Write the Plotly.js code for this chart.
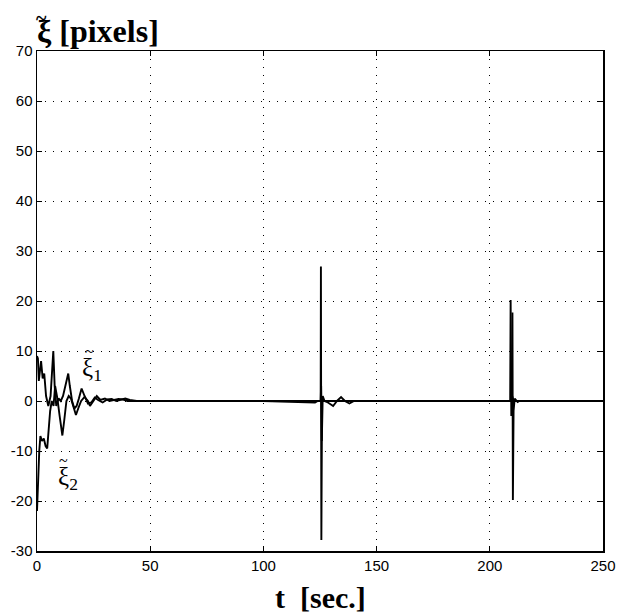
<!DOCTYPE html>
<html>
<head>
<meta charset="utf-8">
<script src="https://cdn.plot.ly/plotly-3.0.1.min.js"></script>
<style>html,body{margin:0;padding:0;background:#fff;}#chart{width:619px;height:614px;}</style>
</head>
<body>
<div id="chart"></div>
<script>
// Series 1 (xi~1)
const t1 = [0, 0.4, 0.8, 1.2, 1.8, 2.5, 3.2, 4, 5, 6, 6.7, 7.2, 7.8, 8.5, 9.5, 10.5, 11.5, 12.5, 13.3, 13.8, 14.5, 15.5, 16.5, 17.5, 18.5, 19.7, 21, 22.5, 24, 25.5, 27, 29, 31, 33, 35, 37, 39, 41, 44, 50, 100, 122.8, 124, 125.3, 125.4, 125.6, 125.9, 126.5, 150, 200, 209.0, 209.2, 209.5, 209.9, 210.5, 250];
const xi1 = [9, 8.5, 4, 6, 8, 4.5, 5.5, 1, -1, 1, 6, 10, 3, -1, 0.5, 0, 1, 3, 5, 5.5, 3, 0, -1.5, -1, 0.5, 2.5, 1, -0.5, -0.3, 0.7, 0.2, -0.3, 0.3, 0.4, 0, 0.3, 0.5, 0.2, 0, 0, 0, -0.3, 0, 0, 26.9, -27.8, 0, 0, 0, 0, 0, 20.2, -3, 1, 0, 0];
// Series 2 (xi~2)
const t2 = [0, 0.3, 0.6, 1, 1.5, 2.2, 3, 3.8, 4.5, 5, 5.8, 6.5, 7.3, 8, 9, 10, 11.2, 12, 13, 14, 15, 16, 17.2, 18.2, 19.5, 21, 22.5, 23.4, 25, 26.4, 28, 30, 32, 34, 36, 38, 40, 50, 100, 124, 125.3, 125.5, 125.8, 126.2, 127, 128.5, 130.8, 132.5, 134.3, 136, 138, 140, 150, 200, 209.8, 210.0, 210.2, 210.5, 211, 212.3, 213, 250];
const xi2 = [-22, -18, -12, -10, -7, -8, -7.5, -9, -9.5, -6, -2, 0, -1, 3, 0.5, -3, -6.9, -4, 0, 1, 0.5, -1, -2.8, -1.5, 0, 0.8, 0, -1, 0, 1, 0.2, 0.5, 0, 0.2, 0.4, 0.3, 0, 0, 0, 0, 0, 3, -8, 1, 0, -0.3, -1, 0, 0.8, 0, -0.5, 0, 0, 0, 0, 17.7, -19.8, -2, 0.5, -0.2, 0, 0];

const xTicks = [0, 50, 100, 150, 200, 250];
const yTicks = [-30, -20, -10, 0, 10, 20, 30, 40, 50, 60, 70];

const lineStyle = {color: '#000', width: 1.9};
const traces = [
  {x: t1, y: xi1, mode: 'lines', line: lineStyle, name: 'xi1', showlegend: false},
  {x: t2, y: xi2, mode: 'lines', line: lineStyle, name: 'xi2', showlegend: false}
];

const axisCommon = {
  showline: true, linecolor: '#000', linewidth: 1.5, mirror: 'ticks',
  ticks: 'inside', ticklen: 5, tickcolor: '#000', tickwidth: 1,
  showgrid: true, gridcolor: '#000', gridwidth: 1, griddash: '1px,7px',
  zeroline: false,
  tickfont: {family: 'Liberation Sans, Arial, sans-serif', size: 15, color: '#000'}
};

const serif = 'Liberation Serif, Times New Roman, serif';
const layout = {
  width: 619, height: 614,
  margin: {l: 37, r: 16, t: 51, b: 63},
  paper_bgcolor: '#fff', plot_bgcolor: '#fff',
  xaxis: Object.assign({}, axisCommon, {range: [0, 250], tickvals: xTicks, ticktext: xTicks.map(String)}),
  yaxis: Object.assign({}, axisCommon, {range: [-30, 70], tickvals: yTicks, ticktext: yTicks.map(String)}),
  annotations: [
    // y-axis title
    {xref: 'paper', yref: 'paper', x: -0.004, y: 1.04, xanchor: 'left', yanchor: 'middle', showarrow: false,
     text: '<b>ξ [pixels]</b>', font: {family: serif, size: 32, color: '#000'}},
    {xref: 'paper', yref: 'paper', x: 0.0075, y: 1.066, xanchor: 'center', yanchor: 'middle', showarrow: false,
     text: '<b>~</b>', font: {family: serif, size: 20, color: '#000'}},
    // x-axis title
    {xref: 'paper', yref: 'paper', x: 0.5, y: -0.092, xanchor: 'center', yanchor: 'middle', showarrow: false,
     text: '<b>t  [sec.]</b>', font: {family: serif, size: 30, color: '#000'}},
    // curve labels
    {xref: 'x', yref: 'y', x: 24.3, y: 6.4, xanchor: 'center', yanchor: 'middle', showarrow: false,
     text: 'ξ<sub>1</sub>', font: {family: serif, size: 25, color: '#000'}},
    {xref: 'x', yref: 'y', x: 23.0, y: 10.0, xanchor: 'center', yanchor: 'middle', showarrow: false,
     text: '~', font: {family: serif, size: 16, color: '#000'}},
    {xref: 'x', yref: 'y', x: 13.6, y: -15.4, xanchor: 'center', yanchor: 'middle', showarrow: false,
     text: 'ξ<sub>2</sub>', font: {family: serif, size: 25, color: '#000'}},
    {xref: 'x', yref: 'y', x: 11.9, y: -11.8, xanchor: 'center', yanchor: 'middle', showarrow: false,
     text: '~', font: {family: serif, size: 16, color: '#000'}}
  ]
};

Plotly.newPlot('chart', traces, layout, {displayModeBar: false, staticPlot: true});
</script>
</body>
</html>
